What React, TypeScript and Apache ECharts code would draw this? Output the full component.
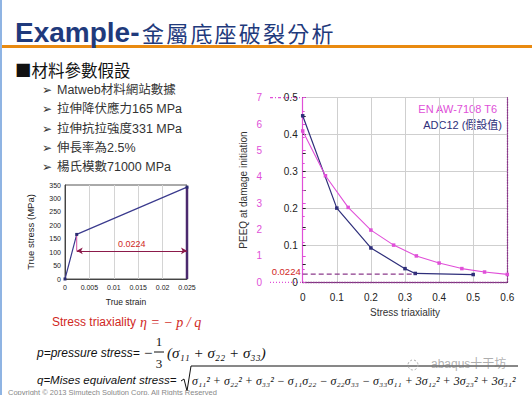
import React, { useEffect, useRef } from "react";
import * as echarts from "echarts";

// Left chart: true stress-strain curve
const strainPts = [0, 0.0024, 0.025];
const stressPts = [0, 166, 342];
const strainTicks = [0, 0.005, 0.01, 0.015, 0.02, 0.025];
const arrowStress = 105;
const plasticStrainLabel = "0.0224";

// Right chart: PEEQ at damage initiation vs stress triaxiality
const triaxAdc = [0, 0.1, 0.2, 0.3, 0.33, 0.5];
const peeqAdc = [0.451, 0.201, 0.093, 0.037, 0.024, 0.021];
const triaxEn = [0, 0.0667, 0.1333, 0.2, 0.2667, 0.3333, 0.4, 0.4667, 0.5333, 0.6];
const peeqEn = [5.74, 4.04, 2.84, 1.98, 1.41, 1.0, 0.73, 0.52, 0.39, 0.3];
const thresholdPeeq = 0.0224;
const thresholdTriax = 0.33;

const seriesNames = ["EN AW-7108 T6", "ADC12 (假設值)"];
const titleLatin = "Example-";
const titleCjk = ["金", "屬", "底", "座", "破", "裂", "分", "析"];
const bullets = [
  "Matweb材料網站數據",
  "拉伸降伏應力165 MPa",
  "拉伸抗拉強度331 MPa",
  "伸長率為2.5%",
  "楊氏模數71000 MPa",
];

const NAVY = "#1f3a7c";
const PINK = "#e04fd8";
const DARK = "#2e2e7a";
const SERIF = "'Liberation Serif', 'DejaVu Serif', serif";
const SANS = "'Liberation Sans', Arial, sans-serif";
const CJK = "'Noto Sans CJK TC', sans-serif";

export default function App() {
  const ref = useRef<HTMLDivElement>(null);
  useEffect(() => {
    if (!ref.current) return;
    const chart = echarts.init(ref.current, null, { renderer: "svg" });
    const axisLbl = { color: "#222", fontFamily: SANS };
    const graphic: any[] = [];
    // page decoration
    graphic.push({ type: "rect", shape: { x: 0, y: 0, width: 2, height: 395 }, style: { fill: "#8fb4e3" } });
    graphic.push({ type: "rect", shape: { x: 2, y: 45, width: 530, height: 3 }, style: { fill: "#e98a10" } });
    graphic.push({
      type: "text", x: 15, y: 32,
      style: { text: titleLatin, fontSize: 28, fontWeight: "bold", fontFamily: SANS, fill: NAVY, textVerticalAlign: "middle" },
    });
    titleCjk.forEach((c, i) => {
      graphic.push({
        type: "text", x: 142 + i * 24.2, y: 32,
        style: { text: c, fontSize: 22, fontFamily: CJK, fill: NAVY, textVerticalAlign: "middle" },
      });
    });
    graphic.push({
      type: "text", x: 15, y: 70,
      style: { text: "■材料參數假設", fontSize: 16.5, fontFamily: CJK, fill: "#111", textVerticalAlign: "middle" },
    });
    bullets.forEach((b, i) => {
      const y = 90 + i * 19.3;
      graphic.push({ type: "text", x: 42, y, style: { text: "➢", fontSize: 12, fontFamily: "DejaVu Sans", fill: "#333", textVerticalAlign: "middle" } });
      graphic.push({ type: "text", x: 57, y, style: { text: b, fontSize: 12.5, fontFamily: SANS + "," + CJK, fill: "#333", textVerticalAlign: "middle" } });
    });
    // legend texts
    graphic.push({ type: "text", x: 497, y: 109, style: { text: seriesNames[0], fontSize: 11, fontFamily: SANS, fill: PINK, textAlign: "right", textVerticalAlign: "middle" } });
    graphic.push({ type: "text", x: 502, y: 125, style: { text: seriesNames[1], fontSize: 11, fontFamily: SANS + "," + CJK, fill: DARK, textAlign: "right", textVerticalAlign: "middle" } });
    // formulas
    graphic.push({ type: "text", x: 52, y: 322, style: { text: "Stress triaxiality", fontSize: 12, fontFamily: SANS, fill: "#d0281e", textVerticalAlign: "middle" } });
    graphic.push({ type: "text", x: 140, y: 322, style: { text: "η = − p / q", fontSize: 14, fontStyle: "italic", fontFamily: SERIF, fill: "#d0281e", textVerticalAlign: "middle" } });
    graphic.push({ type: "text", x: 37, y: 353, style: { text: "p=pressure stress=", fontSize: 12, fontStyle: "italic", fontFamily: SANS, fill: "#111", textVerticalAlign: "middle" } });
    graphic.push({ type: "text", x: 144, y: 353, style: { text: "−", fontSize: 15, fontFamily: SERIF, fill: "#111", textVerticalAlign: "middle" } });
    graphic.push({ type: "text", x: 159, y: 341, style: { text: "1", fontSize: 13, fontFamily: SERIF, fill: "#111", textAlign: "center", textVerticalAlign: "middle" } });
    graphic.push({ type: "line", shape: { x1: 154, y1: 352, x2: 164, y2: 352 }, style: { stroke: "#111", lineWidth: 1 } });
    graphic.push({ type: "text", x: 159, y: 363, style: { text: "3", fontSize: 13, fontFamily: SERIF, fill: "#111", textAlign: "center", textVerticalAlign: "middle" } });
    graphic.push({ type: "text", x: 167, y: 353, style: { text: "(σ₁₁ + σ₂₂ + σ₃₃)", fontSize: 15, fontStyle: "italic", fontFamily: SERIF, fill: "#111", textVerticalAlign: "middle" } });
    graphic.push({ type: "text", x: 37, y: 380, style: { text: "q=Mises equivalent stress=", fontSize: 11.5, fontStyle: "italic", fontFamily: SANS, fill: "#111", textVerticalAlign: "middle" } });
    graphic.push({ type: "polyline", shape: { points: [[181, 381], [184, 379], [187, 391], [191, 366], [518, 366]] }, style: { stroke: "#111", lineWidth: 1, fill: "none" } });
    graphic.push({ type: "text", x: 192, y: 381, style: { text: "σ₁₁² + σ₂₂² + σ₃₃² − σ₁₁σ₂₂ − σ₂₂σ₃₃ − σ₃₃σ₁₁ + 3σ₁₂² + 3σ₂₃² + 3σ₃₁²", fontSize: 12, fontStyle: "italic", fontFamily: SERIF, fill: "#111", textVerticalAlign: "middle" } });
    graphic.push({ type: "text", x: 8, y: 392, style: { text: "Copyright © 2013 Simutech Solution Corp. All Rights Reserved", fontSize: 7.5, fontFamily: SANS, fill: "#888", textVerticalAlign: "middle" } });
    graphic.push({ type: "circle", shape: { cx: 413, cy: 365, r: 5 }, style: { stroke: "#aaa", fill: "none", lineWidth: 1, lineDash: [2, 2] } });
    graphic.push({ type: "text", x: 431, y: 364, style: { text: "abaqus十干坊", fontSize: 12, fontFamily: SANS + "," + CJK, fill: "rgba(120,120,120,0.6)", textVerticalAlign: "middle" } });

    const option: any = {
      animation: false,
      backgroundColor: "#fff",
      grid: [
        { left: 65, top: 185, width: 122, height: 94, show: true, borderColor: "#555", borderWidth: 1 },
        { left: 302.7, top: 97.7, width: 204.6, height: 184.6 },
      ],
      xAxis: [
        {
          gridIndex: 0, type: "value", min: 0, max: 0.025, interval: 0.005,
          axisLine: { lineStyle: { color: "#444" } }, axisTick: { show: false },
          axisLabel: { ...axisLbl, fontSize: 7, margin: 5, formatter: (v: number) => String(strainTicks.find((t) => Math.abs(t - v) < 1e-9) ?? v) },
          splitLine: { show: true, lineStyle: { color: "#d4d4d4" } },
          name: "True strain", nameLocation: "middle", nameGap: 18, nameTextStyle: { fontSize: 8.5, color: "#222", fontFamily: SANS },
        },
        {
          gridIndex: 1, type: "value", min: 0, max: 0.6, interval: 0.1,
          axisLine: { lineStyle: { color: "#222" } }, axisTick: { show: false },
          axisLabel: { ...axisLbl, fontSize: 10, margin: 10 },
          splitLine: { show: true, lineStyle: { color: "#cfcfcf", width: 1 } },
          name: "Stress triaxiality", nameLocation: "middle", nameGap: 25, nameTextStyle: { fontSize: 10, color: "#333", fontFamily: SANS },
        },
        {
          gridIndex: 1, type: "value", min: 0, max: 0.6, position: "top",
          axisLine: { lineStyle: { color: "#8b3a8b", type: "dotted", width: 1.3 } },
          axisTick: { show: false }, axisLabel: { show: false }, splitLine: { show: false },
        },
      ],
      yAxis: [
        {
          gridIndex: 0, type: "value", min: 0, max: 350, interval: 50,
          axisLine: { show: true, lineStyle: { color: "#444" } }, axisTick: { show: false },
          axisLabel: { ...axisLbl, fontSize: 7, margin: 4 },
          splitLine: { show: false },
          name: "True stress (MPa)", nameLocation: "middle", nameGap: 30, nameTextStyle: { fontSize: 9.5, color: "#222", fontFamily: SANS },
        },
        {
          gridIndex: 1, type: "value", min: 0, max: 0.5, interval: 0.1,
          axisLine: { show: true, lineStyle: { color: "#222" } },
          axisTick: { show: true, inside: true, length: 3, lineStyle: { color: "#222" } },
          minorTick: { show: true, splitNumber: 2, length: 3, lineStyle: { color: "#222" } },
          axisLabel: { ...axisLbl, fontSize: 10, margin: 5 },
          splitLine: { show: true, lineStyle: { color: "#cfcfcf" } },
        },
        {
          gridIndex: 1, type: "value", min: 0, max: 7, interval: 1, position: "left", offset: 32.7,
          axisLine: { show: true, lineStyle: { color: PINK, width: 1.2 } },
          axisTick: { show: true, inside: true, length: 3, lineStyle: { color: PINK } },
          minorTick: { show: true, splitNumber: 2, length: 2, lineStyle: { color: PINK } },
          axisLabel: { color: PINK, fontSize: 10, margin: 8, fontFamily: SANS },
          splitLine: { show: false },
          name: "PEEQ at damage initiation", nameLocation: "middle", nameGap: 22,
          nameTextStyle: { fontSize: 10, color: "#333", fontFamily: SANS },
        },
        {
          gridIndex: 1, type: "value", min: 0, max: 0.5, position: "right",
          axisLine: { show: true, lineStyle: { color: "#8b3a8b", type: "dotted", width: 1.3 } },
          axisTick: { show: false }, axisLabel: { show: false }, splitLine: { show: false },
        },
      ],
      series: [
        {
          type: "line", xAxisIndex: 0, yAxisIndex: 0,
          data: strainPts.map((x, i) => [x, stressPts[i]]),
          symbol: "rect", symbolSize: 3, lineStyle: { color: "#3b3b8e", width: 1.2 }, itemStyle: { color: "#2a2a70" },
          markLine: {
            silent: true, symbol: ["arrow", "arrow"], symbolSize: [5, 6],
            lineStyle: { color: "#8b1a4a", width: 1.2, type: "solid" },
            label: { show: true, position: "middle", formatter: plasticStrainLabel, color: "#d0281e", fontSize: 9, fontFamily: SANS, distance: 2 },
            data: [[{ coord: [strainPts[1], arrowStress] }, { coord: [strainPts[2], arrowStress] }]],
          },
        },
        {
          type: "line", xAxisIndex: 0, yAxisIndex: 0, symbol: "none",
          data: [[strainPts[2], 0], [strainPts[2], stressPts[2]]],
          lineStyle: { color: "#4b2a6e", width: 2.5 },
        },
        {
          type: "line", xAxisIndex: 0, yAxisIndex: 0, symbol: "none",
          data: [[strainPts[1], stressPts[1]], [strainPts[1], arrowStress]],
          lineStyle: { color: "#d04fa0", width: 1 },
        },
        {
          name: seriesNames[1], type: "line", xAxisIndex: 1, yAxisIndex: 1,
          data: triaxAdc.map((x, i) => [x, peeqAdc[i]]),
          symbol: "rect", symbolSize: 3.5, lineStyle: { color: DARK, width: 1.2 }, itemStyle: { color: DARK },
        },
        {
          name: seriesNames[0], type: "line", xAxisIndex: 1, yAxisIndex: 2,
          data: triaxEn.map((x, i) => [x, peeqEn[i]]),
          symbol: "rect", symbolSize: 3.5, lineStyle: { color: PINK, width: 1.1 }, itemStyle: { color: PINK },
        },
      ],
      graphic,
    };
    chart.setOption(option);

    // threshold dashed line and pink axis connectors, positioned through the scales
    const yThr = chart.convertToPixel({ yAxisIndex: 1 }, thresholdPeeq) as number;
    const x0 = chart.convertToPixel({ xAxisIndex: 1 }, 0) as number;
    const xEnd = chart.convertToPixel({ xAxisIndex: 1 }, thresholdTriax) as number;
    const yTop = chart.convertToPixel({ yAxisIndex: 2 }, 7) as number;
    const yBot = chart.convertToPixel({ yAxisIndex: 2 }, 0) as number;
    const xPink = x0 - 32.7;
    const extra = [
      { type: "line", shape: { x1: x0, y1: yThr, x2: xEnd, y2: yThr }, style: { stroke: "#8b3a8b", lineWidth: 1.2, lineDash: [5, 3] }, z: 10 },
      { type: "text", x: x0 - 2, y: yThr - 3, style: { text: String(thresholdPeeq), fontSize: 9.5, fontFamily: SANS, fill: "#d0281e", textAlign: "right", textVerticalAlign: "middle" }, z: 10 },
      { type: "line", shape: { x1: xPink, y1: yTop, x2: x0, y2: yTop }, style: { stroke: PINK, lineWidth: 1.2, lineDash: [3, 2, 1, 2] } },
      { type: "line", shape: { x1: xPink, y1: yBot, x2: x0, y2: yBot }, style: { stroke: PINK, lineWidth: 1.2, lineDash: [1, 2] } },
    ];
    chart.setOption({ graphic: [...graphic, ...extra] });
    return () => chart.dispose();
  }, []);
  return <div ref={ref} style={{ position: "fixed", left: 0, top: 0, width: 532, height: 395 }} />;
}
